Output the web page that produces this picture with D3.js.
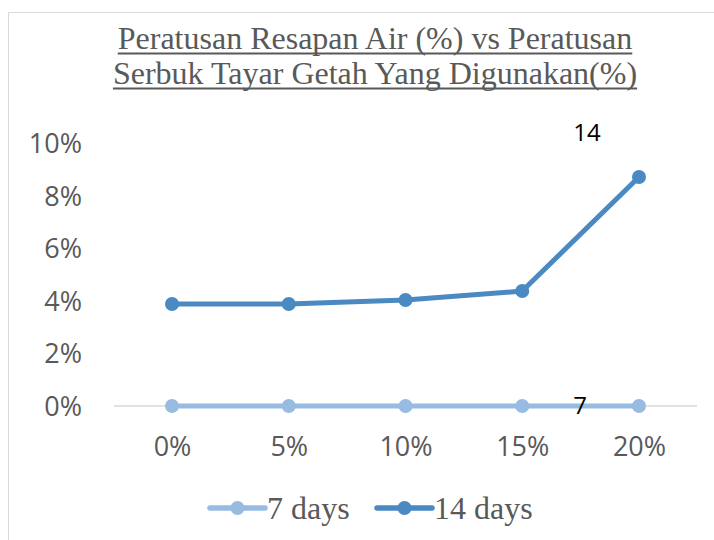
<!DOCTYPE html>
<html><head><meta charset="utf-8">
<script src="https://cdn.jsdelivr.net/npm/d3@7"></script>
<style>body{margin:0;background:#fff}svg{display:block}</style>
</head><body>
<svg id="c" width="714" height="540"></svg>
<script>
const categories = ["0%","5%","10%","15%","20%"];
const seriesNames = ["7 days","14 days"];
const days7 = [0, 0, 0, 0, 0];
const days14 = [0.0388, 0.0388, 0.0403, 0.0437, 0.0871];
const yTicks = [0, 0.02, 0.04, 0.06, 0.08, 0.10];
const titleLines = ["Peratusan Resapan Air (%) vs Peratusan", "Serbuk Tayar Getah Yang Digunakan(%)"];
const colors = ["#98bbe1", "#4a89c1"];

const svg = d3.select("#c");
svg.append("rect").attr("x",8.5).attr("y",12.5).attr("width",740).attr("height",560)
  .attr("fill","none").attr("stroke","#d9d9d9").attr("stroke-width",1);

const x = d3.scalePoint().domain(categories).range([172, 639]);
const y = d3.scaleLinear().domain([0, 0.10]).range([406, 143]);

titleLines.forEach((t,i)=>{
  const tx = svg.append("text").attr("x",375).attr("y",49+i*35).attr("text-anchor","middle")
    .attr("font-family","Liberation Serif, Times New Roman, serif").attr("font-size",32)
    .attr("fill","#595959").text(t);
  const bb = tx.node().getBBox();
  svg.append("line").attr("x1",bb.x).attr("x2",bb.x+bb.width)
    .attr("y1",53.5+i*35).attr("y2",53.5+i*35).attr("stroke","#595959").attr("stroke-width",2);
});

const yAxis = d3.axisLeft(y).tickValues(yTicks).tickFormat(d3.format(".0%")).tickSize(0).tickPadding(0);
const gy = svg.append("g").attr("transform","translate(82,0)").call(yAxis);
gy.select(".domain").remove();
gy.selectAll("text").attr("font-family","Open Sans, Liberation Sans, sans-serif").attr("font-size",27)
  .attr("fill","#595959").attr("dy","0.35em");

svg.append("line").attr("x1",114).attr("x2",697).attr("y1",y(0)).attr("y2",y(0))
  .attr("stroke","#d9d9d9").attr("stroke-width",1.5);

const xAxis = d3.axisBottom(x).tickSize(0).tickPadding(0);
const gx = svg.append("g").attr("transform","translate(0,447)").call(xAxis);
gx.select(".domain").remove();
gx.selectAll("text").attr("font-family","Open Sans, Liberation Sans, sans-serif").attr("font-size",27)
  .attr("fill","#595959").attr("dy","0.35em");

const line = d3.line().x((d,i)=>x(categories[i])).y(d=>y(d));
[days7, days14].forEach((s,k)=>{
  svg.append("path").datum(s).attr("d",line).attr("fill","none")
    .attr("stroke",colors[k]).attr("stroke-width",5).attr("stroke-linejoin","round");
  svg.selectAll(null).data(s).enter().append("circle")
    .attr("cx",(d,i)=>x(categories[i])).attr("cy",d=>y(d)).attr("r",7).attr("fill",colors[k]);
});

svg.append("text").attr("x",587).attr("y",141).attr("text-anchor","middle")
  .attr("font-family","Open Sans, Liberation Sans, sans-serif").attr("font-size",24).attr("fill","#000").text("14");
svg.append("text").attr("x",580).attr("y",414).attr("text-anchor","middle")
  .attr("font-family","Open Sans, Liberation Sans, sans-serif").attr("font-size",24).attr("fill","#000").text("7");

const legX = [210, 377];
seriesNames.forEach((n,k)=>{
  const g = svg.append("g").attr("transform",`translate(${legX[k]},508)`);
  g.append("line").attr("x1",0).attr("x2",55).attr("stroke",colors[k]).attr("stroke-width",5.5).attr("stroke-linecap","round");
  g.append("circle").attr("cx",27.5).attr("r",7).attr("fill",colors[k]);
  g.append("text").attr("x",57).attr("y",11).attr("font-family","Liberation Serif, Times New Roman, serif")
    .attr("font-size",32).attr("fill","#595959").text(n);
});
</script>
</body></html>
